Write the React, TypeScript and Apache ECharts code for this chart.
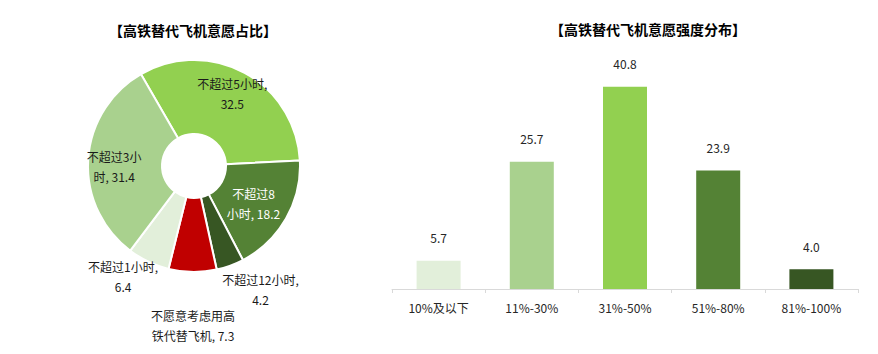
import React, { useEffect, useRef } from "react";
import * as echarts from "echarts";

const pieTitle = "【高铁替代飞机意愿占比】";
const barTitle = "【高铁替代飞机意愿强度分布】";

const pieNames = ["不超过5小时", "不超过8小时", "不超过12小时", "不愿意考虑用高铁代替飞机", "不超过1小时", "不超过3小时"];
const pieValues = [32.5, 18.2, 4.2, 7.3, 6.4, 31.4];
const pieColors = ["#92D050", "#548235", "#375623", "#C00000", "#E2EFDA", "#A9D18E"];
const pieLabelColors = ["#1a1a1a", "#ffffff", "#1a1a1a", "#1a1a1a", "#1a1a1a", "#1a1a1a"];
// character index at which the label wraps (>= name length: wrap after the comma)
const pieWrapAt = [99, 4, 99, 7, 99, 5];
// label shifts from the default inside position
const pieLabelShift: [number, number][] = [[4, -9], [-3, 2], [42, 56], [0, 88], [-40, 45], [-8, 5]];

const barCategories = ["10%及以下", "11%-30%", "31%-50%", "51%-80%", "81%-100%"];
const barValues = [5.7, 25.7, 40.8, 23.9, 4.0];
const barColors = ["#E2EFDA", "#A9D18E", "#92D050", "#548235", "#375623"];

const FONT = "'Microsoft YaHei', 'Noto Sans CJK SC', sans-serif";

export default function App() {
  const ref = useRef<HTMLDivElement>(null);
  useEffect(() => {
    document.body.style.margin = "0";
    if (!ref.current) return;
    const chart = echarts.init(ref.current, null, { renderer: "svg" });
    const pieData = pieNames.map((name, i) => ({
      name,
      value: pieValues[i],
      itemStyle: { color: pieColors[i] },
      label: { color: pieLabelColors[i] },
    }));
    chart.setOption({
      animation: false,
      textStyle: { fontFamily: FONT },
      title: [
        {
          text: pieTitle,
          left: 193,
          top: 23,
          textAlign: "center",
          padding: 0,
          textStyle: { fontSize: 14, fontWeight: "bold", color: "#000", fontFamily: FONT },
        },
        {
          text: barTitle,
          left: 648,
          top: 22,
          textAlign: "center",
          padding: 0,
          textStyle: { fontSize: 14, fontWeight: "bold", color: "#000", fontFamily: FONT },
        },
      ],
      grid: { left: 392, right: 20, top: 66, bottom: 65 },
      xAxis: {
        type: "category",
        data: barCategories,
        axisLine: { lineStyle: { color: "#d9d9d9" } },
        axisTick: { show: true, length: 4, lineStyle: { color: "#d9d9d9" } },
        axisLabel: { color: "#262626", fontSize: 12, margin: 12, fontFamily: FONT },
      },
      yAxis: { type: "value", min: 0, max: 45, show: false, splitLine: { show: false } },
      series: [
        {
          type: "bar",
          data: barValues.map((v, i) => ({ value: v, itemStyle: { color: barColors[i] } })),
          barWidth: 44,
          label: {
            show: true,
            position: "top",
            distance: 17,
            color: "#262626",
            fontSize: 12,
            fontFamily: FONT,
            formatter: (p: any) => Number(p.value).toFixed(1),
          },
        },
        {
          type: "pie",
          center: [194, 166],
          radius: [32, 106],
          startAngle: 120,
          clockwise: true,
          itemStyle: { borderColor: "#fff", borderWidth: 2 },
          label: {
            show: true,
            position: "inside",
            fontSize: 12,
            lineHeight: 20,
            fontFamily: FONT,
            align: "center",
            formatter: (p: any) => {
              const k = pieWrapAt[p.dataIndex];
              const name: string = p.name;
              if (k >= name.length) return `${name},\n${p.value}`;
              return `${name.slice(0, k)}\n${name.slice(k)}, ${p.value}`;
            },
          },
          labelLayout: (p: any) => {
            const s = pieLabelShift[p.dataIndex];
            return { dx: s[0], dy: s[1] };
          },
          labelLine: { show: false },
          data: pieData,
        },
      ],
    });
    return () => chart.dispose();
  }, []);
  return <div ref={ref} style={{ width: 878, height: 354 }} />;
}
